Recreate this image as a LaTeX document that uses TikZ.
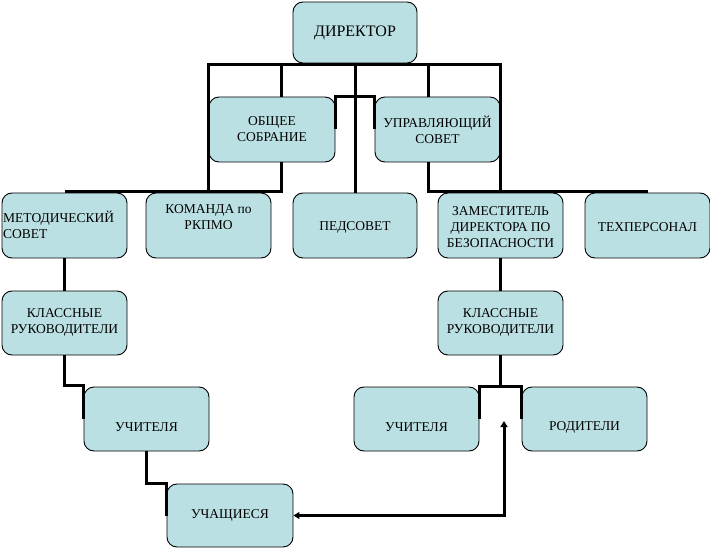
\documentclass[tikz,border=0pt]{standalone}
\usepackage{fontspec}
\setmainfont{Liberation Serif}
\usetikzlibrary{arrows.meta}
\definecolor{boxc}{RGB}{187,224,227}
\tikzset{
  orgbox/.style={draw=black, line width=0.9pt, fill=boxc, rounded corners=10pt, minimum width=125pt, minimum height=65pt, inner sep=0pt},
  lbl/.style={font=\fontsize{13.5}{16}\selectfont, align=center, inner sep=0pt},
  conn/.style={line width=3pt},
  arr/.style={line width=3pt, {Triangle[length=6pt,width=7pt]}-{Triangle[length=6pt,width=7pt]}}
}
\begin{document}
\begin{tikzpicture}[x=1pt,y=1pt]
\useasboundingbox (0,0) rectangle (710,-548);
% boxes
\node[orgbox, minimum width=124pt, minimum height=61pt] (dir) at (355,-32.5) {};
\node[orgbox, minimum width=126pt] (obs) at (272,-129.5) {};
\node[orgbox] (upr) at (437.5,-129.5) {};
\node[orgbox] (met) at (64.5,-225.5) {};
\node[orgbox] (kom) at (208.5,-225.5) {};
\node[orgbox, minimum width=124pt] (ped) at (355,-225.5) {};
\node[orgbox] (zam) at (500.5,-225.5) {};
\node[orgbox] (teh) at (647.5,-225.5) {};
\node[orgbox, minimum height=64pt] (kl1) at (64.5,-323) {};
\node[orgbox, minimum height=64pt] (kl2) at (500.5,-323) {};
\node[orgbox, minimum height=64pt] (uch1) at (146.5,-419) {};
\node[orgbox, minimum height=64pt] (uch2) at (416.5,-419) {};
\node[orgbox, minimum height=64pt] (rod) at (584.5,-419) {};
\node[orgbox, minimum width=126pt, minimum height=63pt] (uchs) at (230,-515.5) {};
% labels
\node[lbl, font=\fontsize{16}{18}\selectfont] (tdir) at (355,-33) {ДИРЕКТОР};
\node[lbl] (tobs) at (272,-129.5) {ОБЩЕЕ\\СОБРАНИЕ};
\node[lbl] (tupr) at (437.5,-129.5) {УПРАВЛЯЮЩИЙ\\СОВЕТ};
\node[lbl, anchor=west, align=left] (tmet) at (3,-224.5) {МЕТОДИЧЕСКИЙ\\СОВЕТ};
\node[lbl] (tkom) at (208.5,-217) {КОМАНДА по\\РКПМО};
\node[lbl] (tped) at (355,-227) {ПЕДСОВЕТ};
\node[lbl] (tzam) at (500.5,-227) {ЗАМЕСТИТЕЛЬ\\ДИРЕКТОРА ПО\\БЕЗОПАСНОСТИ};
\node[lbl] (tteh) at (647.5,-227) {ТЕХПЕРСОНАЛ};
\node[lbl] (tkl1) at (64.5,-322.5) {КЛАССНЫЕ\\РУКОВОДИТЕЛИ};
\node[lbl] (tkl2) at (500.5,-322.5) {КЛАССНЫЕ\\РУКОВОДИТЕЛИ};
\node[lbl] (tuch1) at (146.5,-427) {УЧИТЕЛЯ};
\node[lbl] (tuch2) at (416.5,-427) {УЧИТЕЛЯ};
\node[lbl] (trod) at (584.5,-427) {РОДИТЕЛИ};
\node[lbl] (tuchs) at (230,-515.5) {УЧАЩИЕСЯ};
% helper coordinates
\coordinate (busT) at (0,-65);
\coordinate (busB) at (0,-191.5);
\coordinate (xo) at (281,0);
\coordinate (xu) at (428.5,0);
\coordinate (y1) at (0,-385);
\coordinate (y3) at (0,-483);
\coordinate (y4) at (0,-386);
\coordinate (atip) at (504,-421);
% connectors
\draw[conn] (kom.north) -- (kom.north |- busT) -- (zam.north |- busT) -- (zam.north);
\draw[conn] (obs.north -| xo) -- (xo |- busT);
\draw[conn] (upr.north -| xu) -- (xu |- busT);
\draw[conn] (dir.south) -- (ped.north);
\draw[conn] (obs.east) -- (obs.north east) -- (upr.north west) -- (upr.west);
\draw[conn] (met.north |- busB) -- (xo |- busB) -- (obs.south -| xo);
\draw[conn] (upr.south -| xu) -- (xu |- busB) -- (teh.north |- busB);
\draw[conn] (met.south) -- (kl1.north);
\draw[conn] (kl1.south) -- (kl1.south |- y1) -- (uch1.west |- y1) -- (uch1.west);
\draw[conn] (uch1.south) -- (uch1.south |- y3) -- (uchs.west |- y3) -- (uchs.west);
\draw[conn] (zam.south) -- (kl2.north);
\draw[conn] (kl2.south) -- (kl2.south |- y4);
\draw[conn] (uch2.east) -- (uch2.east |- y4) -- (rod.west |- y4) -- (rod.west);
\draw[arr] (uchs.east) -| (atip);
\end{tikzpicture}
\end{document}
